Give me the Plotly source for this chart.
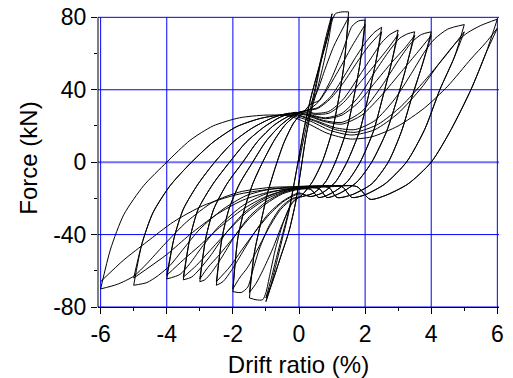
import plotly.graph_objects as go

# Drift amplitudes (%) of the loading protocol (two cycles each)
amps = [1, 1.5, 2, 2.5, 3, 3.5, 4, 5, 6]

# First loading from the origin
start_origin = [(0, 0), (0.2, 18), (0.35, 30)]

# Rising branches after a negative peak at -A (peak itself excluded)
rise_1 = [(-0.8, -66), (-0.55, -52), (-0.3, -38), (-0.1, -22), (0.05, -5), (0.2, 13), (0.35, 27)]
rise_15 = [(-1.35, -50), (-1.15, -33), (-0.95, -17), (-0.7, -2), (-0.45, 11), (-0.15, 22), (0.15, 28), (0.35, 32)]
rise_2 = [(-1.85, -42), (-1.65, -26), (-1.4, -12), (-1.1, 0), (-0.75, 12), (-0.4, 21), (0, 27), (0.3, 29)]
rise_25 = [(-2.33, -42), (-2.12, -26), (-1.8, -12), (-1.4, 0), (-1.0, 11.5), (-0.55, 20.5), (-0.15, 26), (0.2, 28.5)]
rise_3 = [(-2.82, -42), (-2.58, -26), (-2.18, -12), (-1.7, 0), (-1.25, 11.5), (-0.75, 20.5), (-0.3, 25.5), (0.1, 28)]
rise_35 = [(-3.3, -42), (-3.05, -26), (-2.6, -12), (-2.1, 0), (-1.6, 11), (-1.05, 19.5), (-0.55, 25), (-0.1, 27.5)]
rise_4 = [(-3.78, -42), (-3.5, -26), (-3.05, -12), (-2.55, 0), (-2.0, 11), (-1.4, 19), (-0.8, 24.5), (-0.3, 27)]
rise_5 = [(-4.75, -45), (-4.42, -28), (-3.9, -13), (-3.25, 0), (-2.6, 11), (-1.9, 19.5), (-1.2, 24), (-0.6, 26)]
rise_6 = [(-5.7, -48), (-5.3, -29), (-4.7, -13), (-4.0, 0), (-3.3, 12), (-2.6, 20), (-1.8, 24.5), (-1.0, 26)]

# Loading branches towards the positive peak (ends at the peak), cycle 1 and cycle 2
pos_1_c1 = [(0.5, 42), (0.65, 56), (0.8, 68), (1, 82)]
pos_1_c2 = [(0.5, 40), (0.65, 54), (0.8, 66), (1, 80)]
pos_15_c1 = [(0.55, 40), (0.75, 55), (0.9, 68), (1.0, 78), (1.1, 82), (1.3, 83), (1.5, 83)]
pos_15_c2 = [(0.55, 39), (0.8, 52), (1.05, 64), (1.3, 73), (1.5, 80)]
pos_2_c1 = [(0.6, 34), (0.95, 45), (1.25, 58), (1.45, 68), (1.6, 75), (1.8, 78), (2, 78.5)]
pos_2_c2 = [(0.6, 33.5), (0.95, 43), (1.3, 54), (1.6, 64), (1.8, 70), (2, 76)]
pos_25_c1 = [(0.55, 30), (0.95, 36), (1.35, 47), (1.75, 59), (2.05, 67), (2.3, 72), (2.5, 74.5)]
pos_25_c2 = [(0.55, 29.5), (0.95, 35), (1.35, 44), (1.75, 55), (2.1, 64), (2.5, 72)]
pos_3_c1 = [(0.45, 27), (0.9, 28), (1.35, 35), (1.8, 47), (2.2, 58), (2.5, 66), (2.75, 70.5), (3, 73)]
pos_3_c2 = [(0.45, 26.5), (0.9, 27), (1.35, 33), (1.85, 44), (2.35, 55), (2.7, 63), (3, 70.5)]
pos_35_c1 = [(0.3, 26.5), (0.8, 24.5), (1.3, 27), (1.8, 36), (2.3, 50), (2.75, 62), (3.05, 68.5), (3.3, 71), (3.5, 72)]
pos_35_c2 = [(0.3, 26), (0.8, 24), (1.3, 26), (1.8, 33), (2.3, 44), (2.8, 55), (3.2, 63), (3.5, 70)]
pos_4_c1 = [(0.2, 26.5), (0.75, 23), (1.3, 22), (1.9, 28), (2.5, 42), (3.0, 56), (3.4, 66), (3.7, 70.5), (4, 72)]
pos_4_c2 = [(0.2, 26), (0.75, 22.5), (1.3, 21), (1.9, 26), (2.5, 37), (3.1, 50), (3.6, 61), (4, 70)]
pos_5_c1 = [(-0.1, 26.5), (0.5, 23), (1.1, 19), (1.7, 18), (2.3, 23), (2.9, 35), (3.4, 49), (3.8, 61), (4.1, 68), (4.5, 73.5), (5, 76)]
pos_5_c2 = [(-0.1, 26), (0.5, 22.5), (1.1, 18), (1.7, 16.5), (2.4, 21), (3.1, 31), (3.8, 45), (4.4, 58), (5, 72)]
pos_6_c1 = [(-0.3, 26), (0.3, 23), (0.95, 17.5), (1.6, 15), (2.3, 18), (3.0, 27), (3.7, 41), (4.3, 56), (4.8, 67), (5.1, 71.5), (5.5, 75.5), (6, 79)]
pos_6_c2 = [(-0.3, 25.5), (0.2, 22), (0.85, 16), (1.55, 12.8), (2.2, 14), (3.0, 20), (3.8, 30), (4.5, 42), (5.2, 57), (5.65, 66), (6, 74)]

# Falling branches after a positive peak at +A (peak itself excluded)
fall_1 = [(0.85, 68), (0.6, 52), (0.35, 35), (0.15, 18), (0, 3), (-0.15, -12)]
fall_15 = [(1.37, 55), (1.2, 35), (1.0, 17), (0.7, 0), (0.4, -11), (0.1, -18)]
fall_2 = [(1.85, 55), (1.65, 35), (1.43, 17), (1.1, 0), (0.8, -11), (0.45, -17), (0.1, -19)]
fall_25 = [(2.32, 55), (2.08, 35), (1.83, 17), (1.45, 0), (1.1, -11), (0.7, -17), (0.35, -19)]
fall_3 = [(2.8, 55), (2.52, 35), (2.25, 17), (1.85, 0), (1.45, -11), (1.0, -17), (0.6, -19.5), (0.35, -15)]
fall_35 = [(3.28, 55), (2.97, 35), (2.65, 17), (2.2, 0), (1.75, -11), (1.25, -17), (0.85, -19.5), (0.6, -14.5)]
fall_4 = [(3.75, 55), (3.4, 35), (3.1, 17), (2.7, 0), (2.2, -12), (1.6, -18), (1.15, -19.5), (0.9, -14)]
fall_5 = [(4.7, 58), (4.26, 40), (3.8, 18), (3.25, 0), (2.6, -12), (2.0, -18), (1.6, -19.5), (1.3, -13.5)]
fall_6 = [(5.65, 60), (5.2, 40), (4.6, 18), (4.0, 0), (3.3, -12), (2.6, -18.5), (2.15, -20.5), (1.75, -13.5)]

# Loading branches towards the negative peak (ends at the peak), cycle 1 and cycle 2
neg_1_c1 = [(-0.3, -27), (-0.5, -42), (-0.7, -57), (-0.85, -68), (-1, -77)]
neg_1_c2 = [(-0.3, -26), (-0.5, -40), (-0.7, -54), (-0.85, -65), (-1, -75)]
neg_15_c1 = [(-0.2, -22), (-0.45, -32), (-0.7, -47), (-0.88, -62), (-1.0, -72), (-1.1, -76), (-1.3, -76), (-1.5, -75)]
neg_15_c2 = [(-0.2, -22.5), (-0.5, -34), (-0.8, -48), (-1.1, -60), (-1.3, -67), (-1.5, -72)]
neg_2_c1 = [(-0.2, -20), (-0.55, -25), (-0.9, -35), (-1.2, -48), (-1.4, -60), (-1.55, -69), (-1.75, -72), (-2, -71.5)]
neg_2_c2 = [(-0.2, -20.5), (-0.55, -26), (-0.9, -36), (-1.25, -48), (-1.55, -58), (-1.8, -64), (-2, -70)]
neg_25_c1 = [(0, -17), (-0.45, -21), (-0.9, -28), (-1.35, -39), (-1.75, -51), (-2.05, -60), (-2.3, -66), (-2.5, -68)]
neg_25_c2 = [(0, -17.5), (-0.45, -21.5), (-0.9, -29), (-1.35, -39), (-1.75, -49), (-2.1, -58), (-2.5, -66)]
neg_3_c1 = [(0, -14.5), (-0.5, -17), (-1.0, -22), (-1.5, -30), (-1.95, -41), (-2.35, -53), (-2.65, -61), (-2.85, -65), (-3, -66)]
neg_3_c2 = [(0, -15), (-0.5, -17.5), (-1.0, -23), (-1.5, -31), (-2.0, -42), (-2.45, -52), (-2.75, -58), (-3, -64.5)]
neg_35_c1 = [(0.2, -14), (-0.4, -15.5), (-1.0, -19.5), (-1.6, -27), (-2.2, -39), (-2.65, -51), (-3.0, -59), (-3.25, -63.5), (-3.5, -65)]
neg_35_c2 = [(0.2, -14.5), (-0.4, -16), (-1.0, -20.5), (-1.6, -28), (-2.2, -39), (-2.7, -49), (-3.1, -57), (-3.5, -63.5)]
neg_4_c1 = [(0.4, -13.5), (-0.3, -14.5), (-1.0, -17.5), (-1.7, -24), (-2.4, -35), (-2.9, -46), (-3.3, -56), (-3.6, -62), (-4, -64.5)]
neg_4_c2 = [(0.4, -14), (-0.3, -15), (-1.0, -19), (-1.7, -26), (-2.4, -36), (-3.0, -46), (-3.5, -54), (-4, -62.5)]
neg_5_c1 = [(0.7, -13), (-0.1, -13.5), (-0.9, -15), (-1.6, -18.5), (-2.3, -26), (-3.0, -37), (-3.5, -48), (-3.9, -57), (-4.25, -62.5), (-4.6, -66.5), (-5, -68)]
neg_5_c2 = [(0.7, -13.5), (-0.1, -14.5), (-0.9, -16.5), (-1.7, -21), (-2.5, -29), (-3.3, -40), (-4.0, -51), (-5, -64)]
neg_6_c1 = [(1.0, -13), (0, -13.5), (-0.9, -14), (-1.8, -16.5), (-2.6, -22), (-3.4, -33), (-4.1, -46), (-4.6, -56), (-5.0, -63), (-5.5, -67.5), (-6, -70)]
neg_6_c2 = [(1.0, -13.5), (0, -14), (-0.9, -15), (-1.9, -18), (-2.9, -24), (-3.8, -33), (-4.6, -44), (-5.3, -54), (-6, -66)]

x_ticks = [-6, -4, -2, 0, 2, 4, 6]
y_ticks = [-80, -40, 0, 40, 80]

rise = {1: rise_1, 1.5: rise_15, 2: rise_2, 2.5: rise_25, 3: rise_3, 3.5: rise_35, 4: rise_4, 5: rise_5, 6: rise_6}
fall = {1: fall_1, 1.5: fall_15, 2: fall_2, 2.5: fall_25, 3: fall_3, 3.5: fall_35, 4: fall_4, 5: fall_5, 6: fall_6}
load_pos = {1: (pos_1_c1, pos_1_c2), 1.5: (pos_15_c1, pos_15_c2), 2: (pos_2_c1, pos_2_c2),
            2.5: (pos_25_c1, pos_25_c2), 3: (pos_3_c1, pos_3_c2), 3.5: (pos_35_c1, pos_35_c2),
            4: (pos_4_c1, pos_4_c2), 5: (pos_5_c1, pos_5_c2), 6: (pos_6_c1, pos_6_c2)}
load_neg = {1: (neg_1_c1, neg_1_c2), 1.5: (neg_15_c1, neg_15_c2), 2: (neg_2_c1, neg_2_c2),
            2.5: (neg_25_c1, neg_25_c2), 3: (neg_3_c1, neg_3_c2), 3.5: (neg_35_c1, neg_35_c2),
            4: (neg_4_c1, neg_4_c2), 5: (neg_5_c1, neg_5_c2), 6: (neg_6_c1, neg_6_c2)}

segments = []
prev_amp, prev_peak = None, None
for A in amps:
    for c in (0, 1):
        if prev_amp is None:
            pos = list(start_origin) + load_pos[A][c]
        else:
            pos = [prev_peak] + rise[prev_amp] + load_pos[A][c]
        segments.append(pos)
        neg = [pos[-1]] + fall[A] + load_neg[A][c]
        segments.append(neg)
        prev_amp, prev_peak = A, neg[-1]

fig = go.Figure()
for seg in segments:
    fig.add_trace(go.Scatter(
        x=[p[0] for p in seg], y=[p[1] for p in seg], mode="lines",
        line=dict(color="black", width=1, shape="spline", smoothing=0.7),
        showlegend=False, hoverinfo="skip"))

# grid lines limited to the -6..6 / -80..80 frame, left axis line
shapes = []
for xv in x_ticks:
    shapes.append(dict(type="line", xref="x", yref="y", x0=xv, x1=xv, y0=-80, y1=80,
                       line=dict(color="#0000ff", width=1), layer="below"))
for yv in y_ticks:
    if yv == 0:
        ln = dict(color="#7070ff", width=2)
    else:
        ln = dict(color="#0000ff", width=1)
    shapes.append(dict(type="line", xref="paper", yref="y", x0=0, x1=1, y0=yv, y1=yv,
                       line=ln, layer="below"))
shapes.append(dict(type="line", xref="paper", yref="y", x0=0, x1=0, y0=-80, y1=80,
                   line=dict(color="black", width=1), layer="above"))

fig.update_layout(
    width=513, height=378,
    margin=dict(l=98, r=14, t=9, b=71),
    plot_bgcolor="white", paper_bgcolor="white",
    font=dict(family="Liberation Sans, Arial, sans-serif", size=23, color="black"),
    shapes=shapes,
)
fig.update_xaxes(
    range=[-6.08, 6.05], tickvals=x_ticks, ticktext=[str(v) for v in x_ticks],
    showgrid=False, zeroline=False, automargin=False,
    showline=True, linecolor="black", linewidth=1,
    ticks="outside", ticklen=6, tickcolor="black",
    minor=dict(dtick=1, tick0=-6, ticks="outside", ticklen=3, tickcolor="black", showgrid=False),
    title=dict(text="Drift ratio (%)", font=dict(size=24), standoff=10),
)
fig.update_yaxes(
    range=[-80, 84.6], tickvals=y_ticks, ticktext=[str(v) for v in y_ticks],
    showgrid=False, zeroline=False, automargin=False,
    showline=False,
    ticks="outside", ticklen=6, tickcolor="black",
    minor=dict(dtick=20, tick0=-80, ticks="outside", ticklen=3, tickcolor="black", showgrid=False),
    title=dict(text="Force (kN)", font=dict(size=24), standoff=8),
)
fig.write_html("out.html", config={"displayModeBar": False},
               post_script="document.body.style.margin='0px';document.body.style.overflow='hidden';")
